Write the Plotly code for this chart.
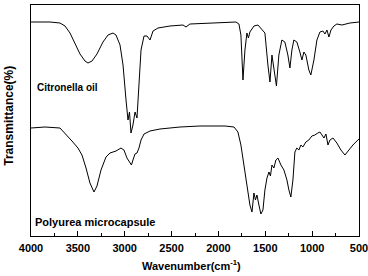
import plotly.graph_objects as go

# Citronella oil spectrum (wavenumber cm-1, transmittance a.u.)
oil_wn = [4000, 3797, 3691, 3637, 3584, 3531, 3477, 3424, 3392, 3349, 3296, 3232, 3178, 3125,
          3093, 3050, 3018, 2986, 2965, 2949, 2933, 2912, 2890, 2869, 2848, 2826, 2794, 2762,
          2730, 2698, 2645, 2517, 2378, 2346, 2304, 2090, 1813, 1781, 1760, 1738, 1717, 1696,
          1680, 1664, 1621, 1578, 1525, 1504, 1472, 1450, 1429, 1408, 1381, 1355, 1323, 1291,
          1259, 1237, 1216, 1195, 1163, 1131, 1109, 1088, 1067, 1035, 1014, 981, 949, 917,
          885, 863, 842, 821, 799, 768, 736, 682, 597, 500]
oil_t = [214, 214, 213, 210, 203, 192, 182, 175, 173, 175, 182, 194, 201, 203,
         201, 191, 171, 136, 116, 124, 103, 111, 124, 118, 151, 186, 200, 200,
         196, 205, 208, 210, 211, 209, 212, 213, 214, 212, 201, 156, 186, 203,
         198, 204, 210, 211, 206, 203, 171, 154, 181, 166, 150, 181, 196, 194,
         181, 168, 186, 196, 194, 184, 176, 184, 181, 166, 161, 176, 196, 204,
         205, 202, 206, 199, 206, 210, 212, 211, 213, 214]

# Polyurea microcapsule spectrum
pu_wn = [4000, 3851, 3691, 3627, 3563, 3499, 3456, 3413, 3371, 3328, 3296, 3253, 3200, 3157,
         3093, 3040, 3008, 2976, 2944, 2928, 2912, 2890, 2869, 2848, 2826, 2794, 2730, 2624,
         2410, 2197, 1930, 1834, 1792, 1760, 1728, 1696, 1664, 1642, 1621, 1605, 1589, 1568,
         1547, 1525, 1504, 1482, 1461, 1445, 1429, 1408, 1387, 1365, 1333, 1301, 1269, 1248,
         1227, 1205, 1184, 1163, 1141, 1120, 1099, 1067, 1035, 1003, 971, 939, 917, 895,
         874, 853, 831, 810, 778, 736, 693, 650, 608, 565, 512, 500]
pu_t = [108, 109, 108, 102, 95, 88, 81, 68, 53, 44, 50, 66, 79, 83,
        85, 88, 86, 78, 73, 71, 76, 82, 83, 88, 96, 102, 105, 107,
        109, 110, 110, 109, 104, 91, 71, 51, 31, 24, 43, 36, 41, 31,
        22, 26, 46, 58, 64, 60, 71, 68, 76, 78, 71, 66, 56, 46,
        39, 56, 84, 88, 86, 91, 89, 94, 96, 100, 101, 103, 104, 101,
        98, 102, 91, 96, 98, 93, 86, 81, 86, 91, 96, 97]

tick_vals = [4000, 3500, 3000, 2500, 2000, 1500, 1000, 500]
tick_text = ["4000", "3500", "3000", "2500", "2000", "1500", "1000", "500"]

font_family = "Liberation Sans, Arial, sans-serif"

fig = go.Figure()
fig.add_trace(go.Scatter(x=oil_wn, y=oil_t, mode="lines",
                         line=dict(color="black", width=1), showlegend=False))
fig.add_trace(go.Scatter(x=pu_wn, y=pu_t, mode="lines",
                         line=dict(color="black", width=1), showlegend=False))

fig.add_annotation(x=3960, y=149, text="<b>Citronella oil</b>", showarrow=False,
                   xanchor="left", yanchor="middle",
                   font=dict(family=font_family, size=10, color="black"))
fig.add_annotation(x=3975, y=14, text="<b>Polyurea microcapsule</b>", showarrow=False,
                   xanchor="left", yanchor="middle",
                   font=dict(family=font_family, size=11, color="black"))

# axis titles as paper-anchored annotations
fig.add_annotation(x=0.488, xref="paper", y=-0.085, yref="paper",
                   text="<b>Wavenumber(cm<sup>-1</sup>)</b>", showarrow=False,
                   xanchor="center", yanchor="top",
                   font=dict(family=font_family, size=11, color="black"))
fig.add_annotation(x=-0.04, xref="paper", y=0.52, yref="paper",
                   text="<b>Transmittance(%)</b>", showarrow=False, textangle=-90,
                   xanchor="right", yanchor="middle",
                   font=dict(family=font_family, size=12, color="black"))

fig.update_layout(
    width=368, height=276,
    margin=dict(l=31, r=9, t=5, b=40, autoexpand=False),
    paper_bgcolor="white", plot_bgcolor="white",
    font=dict(family=font_family, color="black"),
)
fig.update_xaxes(
    range=[4000, 500], tickmode="array", tickvals=tick_vals,
    ticktext=["<b>" + t + "</b>" for t in tick_text],
    ticks="inside", ticklen=5, tickwidth=1, tickcolor="black",
    minor=dict(ticks="inside", ticklen=3, dtick=250, tickcolor="black"),
    showline=True, linecolor="black", linewidth=1, mirror=True,
    showgrid=False, zeroline=False, automargin=False,
    ticklabelstandoff=2, ticklabeloverflow="allow",
    tickfont=dict(size=11, family=font_family, color="black"),
)
fig.update_yaxes(
    range=[0, 231], showticklabels=False, ticks="",
    showline=True, linecolor="black", linewidth=1, mirror=True,
    showgrid=False, zeroline=False, automargin=False,
)

fig.write_html("out.html", config={"displayModeBar": False},
               post_script="document.body.style.margin='0';document.body.style.padding='0';")
